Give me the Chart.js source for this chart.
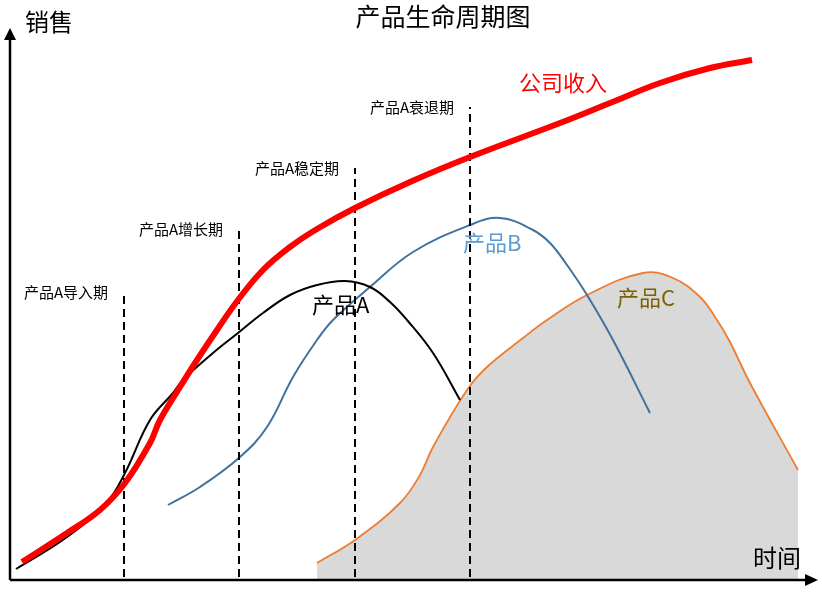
<!DOCTYPE html>
<html>
<head>
<meta charset="utf-8">
<script src="https://cdn.jsdelivr.net/npm/chart.js@4"></script>
<style>
  html, body { margin: 0; padding: 0; background: #fff; }
  #wrap { width: 822px; height: 593px; }
</style>
</head>
<body>
<div id="wrap"><canvas id="lifeChart" width="822" height="593"></canvas></div>
<script>
// 时间 (x) / 销售 (y)
const revenueX = [12, 57, 90, 115, 140, 150, 170, 187, 207, 228, 253, 280, 307, 345, 400, 460, 550, 600, 650, 700, 742];
const revenueY = [18, 47, 70, 97, 137, 160, 193, 220, 250, 280, 310, 333, 351, 372, 398, 423, 457, 477, 497, 512, 520];

const productAX = [6, 57, 97, 115, 140, 163, 173, 203, 228, 253, 280, 307, 335, 360, 380, 397, 423, 450];
const productAY = [11, 43, 78, 107, 160, 187, 200, 227, 247, 267, 285, 295, 299, 293, 278, 260, 227, 180];

const productBX = [158, 190, 230, 257, 283, 307, 323, 360, 403, 460, 490, 523, 540, 557, 577, 603, 640];
const productBY = [75, 93, 123, 153, 203, 240, 260, 293, 328, 355, 362, 350, 337, 315, 285, 240, 167];

const productCX = [307, 345, 390, 410, 423, 457, 477, 513, 537, 577, 633, 663, 690, 707, 720, 740, 788];
const productCY = [17, 40, 77, 105, 133, 190, 213, 242, 260, 285, 307, 302, 283, 260, 238, 197, 110];

// 产品A 各阶段分界
const phaseNames = ['产品A导入期', '产品A增长期', '产品A稳定期', '产品A衰退期'];
const phaseX = [114, 229, 345, 460];
const phaseTop = [288, 351, 412, 473];

function pts(xs, ys) {
    return xs.map((x, i) => ({ x: x, y: ys[i] }));
}
function phaseLine(i) {
    return [{ x: phaseX[i], y: 3 }, { x: phaseX[i], y: phaseTop[i] }];
}

const cjk = '"Noto Sans CJK SC", "Noto Sans", sans-serif';

// text placed in data units
const notes = [
    { text: '公司收入', x: 509, y: 497, color: '#ff0000', size: 22 },
    { text: '产品A', x: 302, y: 275, color: '#000000', size: 22 },
    { text: '产品B', x: 453, y: 337, color: '#5b9bd5', size: 22 },
    { text: '产品C', x: 607, y: 282, color: '#7f6000', size: 22 },
    { text: '销售', x: 15, y: 558, color: '#000000', size: 24 },
    { text: '时间', x: 743, y: 22, color: '#000000', size: 24 }
];

const decorPlugin = {
    id: 'decor',
    afterDatasetsDraw(chart) {
        const ctx = chart.ctx;
        const xs = chart.scales.x, ys = chart.scales.y;
        const area = chart.chartArea;
        ctx.save();

        // axes with arrows
        ctx.strokeStyle = '#000';
        ctx.fillStyle = '#000';
        ctx.lineWidth = 2.5;
        ctx.beginPath();
        ctx.moveTo(area.left, area.bottom);
        ctx.lineTo(area.left, area.top + 10);
        ctx.moveTo(area.left, area.bottom);
        ctx.lineTo(area.right - 10, area.bottom);
        ctx.stroke();
        ctx.beginPath();
        ctx.moveTo(area.left, area.top);
        ctx.lineTo(area.left - 6, area.top + 12);
        ctx.lineTo(area.left + 6, area.top + 12);
        ctx.closePath();
        ctx.fill();
        ctx.beginPath();
        ctx.moveTo(area.right, area.bottom);
        ctx.lineTo(area.right - 13, area.bottom - 6);
        ctx.lineTo(area.right - 13, area.bottom + 6);
        ctx.closePath();
        ctx.fill();

        // phase labels next to the dashed lines
        ctx.font = '15px ' + cjk;
        ctx.fillStyle = '#000';
        ctx.textAlign = 'right';
        ctx.textBaseline = 'middle';
        phaseNames.forEach((name, i) => {
            ctx.fillText(name, xs.getPixelForValue(phaseX[i]) - 16, ys.getPixelForValue(phaseTop[i]));
        });

        // curve labels
        ctx.textAlign = 'left';
        notes.forEach(n => {
            ctx.font = n.size + 'px ' + cjk;
            ctx.fillStyle = n.color;
            ctx.fillText(n.text, xs.getPixelForValue(n.x), ys.getPixelForValue(n.y));
        });

        // title
        ctx.font = '25px ' + cjk;
        ctx.fillStyle = '#000';
        ctx.textAlign = 'center';
        ctx.fillText('产品生命周期图', xs.getPixelForValue(433), 16);
        ctx.restore();
    }
};

const dashStyle = {
    borderColor: '#000',
    borderWidth: 2,
    borderDash: [8, 5],
    pointRadius: 0,
    fill: false,
    tension: 0
};

new Chart(document.getElementById('lifeChart'), {
    type: 'line',
    data: {
        datasets: [
            { label: '公司收入', data: pts(revenueX, revenueY), borderColor: '#ff0000', borderWidth: 6, pointRadius: 0, fill: false, tension: 0.4 },
            Object.assign({ label: 'p1', data: phaseLine(0) }, dashStyle),
            Object.assign({ label: 'p2', data: phaseLine(1) }, dashStyle),
            Object.assign({ label: 'p3', data: phaseLine(2) }, dashStyle),
            Object.assign({ label: 'p4', data: phaseLine(3) }, dashStyle),
            { label: '产品A', data: pts(productAX, productAY), borderColor: '#000000', borderWidth: 2, pointRadius: 0, fill: false, tension: 0.4 },
            { label: '产品B', data: pts(productBX, productBY), borderColor: '#41719c', borderWidth: 2, pointRadius: 0, fill: false, tension: 0.4 },
            { label: '产品C', data: pts(productCX, productCY), borderColor: '#ed7d31', borderWidth: 1.8, pointRadius: 0, fill: 'origin', backgroundColor: '#d9d9d9', tension: 0.4 }
        ]
    },
    options: {
        responsive: false,
        animation: false,
        layout: { padding: { left: 10, right: 4, top: 28, bottom: 13 } },
        scales: {
            x: { type: 'linear', min: 0, max: 808, display: false },
            y: { type: 'linear', min: 0, max: 552, display: false }
        },
        plugins: {
            legend: { display: false },
            tooltip: { enabled: false },
            title: { display: false }
        }
    },
    plugins: [decorPlugin]
});
</script>
</body>
</html>
